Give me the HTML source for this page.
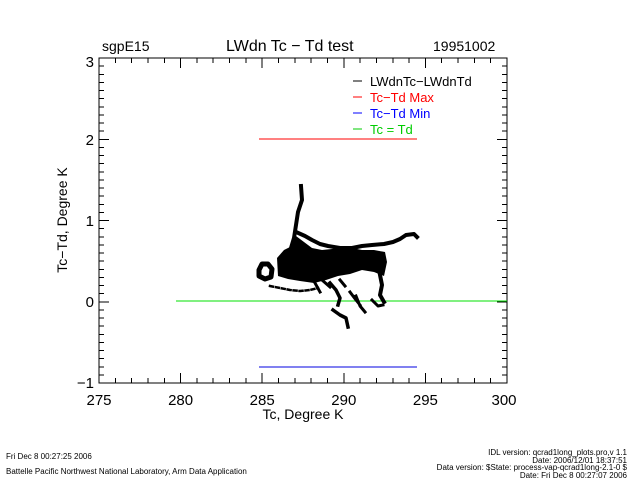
<!DOCTYPE html>
<html><head><meta charset="utf-8"><style>
html,body{margin:0;padding:0;background:#fff;}
svg{display:block;font-family:"Liberation Sans",sans-serif;}
</style></head><body>
<svg width="640" height="480" viewBox="0 0 640 480" xmlns="http://www.w3.org/2000/svg">
<rect width="640" height="480" fill="#fff"/>
<text x="102" y="51" font-size="14">sgpE15</text>
<text x="226" y="51" font-size="16">LWdn Tc − Td test</text>
<text x="433" y="51" font-size="14">19951002</text>
<g shape-rendering="crispEdges">
<rect x="99" y="58" width="408" height="325" fill="none" stroke="#000" stroke-width="1.3"/>
<g stroke="#000" stroke-width="1">
<path d="M115.3 383v-5M131.6 383v-5M148 383v-5M164.3 383v-5M180.6 383v-10M196.9 383v-5M213.2 383v-5M229.6 383v-5M245.9 383v-5M262.2 383v-10M278.5 383v-5M294.8 383v-5M311.2 383v-5M327.5 383v-5M343.8 383v-10M360.1 383v-5M376.4 383v-5M392.8 383v-5M409.1 383v-5M425.4 383v-10M441.7 383v-5M458 383v-5M474.4 383v-5M490.7 383v-5"/>
<path d="M115.3 58v5M131.6 58v5M148 58v5M164.3 58v5M180.6 58v10M196.9 58v5M213.2 58v5M229.6 58v5M245.9 58v5M262.2 58v10M278.5 58v5M294.8 58v5M311.2 58v5M327.5 58v5M343.8 58v10M360.1 58v5M376.4 58v5M392.8 58v5M409.1 58v5M425.4 58v10M441.7 58v5M458 58v5M474.4 58v5M490.7 58v5"/>
</g>
<g id="yt" stroke="#000" stroke-width="1"></g>
<line x1="176" y1="301" x2="507" y2="301" stroke="#00e000" stroke-width="1"/>
<line x1="259" y1="139" x2="417" y2="139" stroke="#f00" stroke-width="1"/>
<line x1="259" y1="367" x2="417" y2="367" stroke="#0000e0" stroke-width="1"/>
<g stroke-width="1">
<line x1="353" y1="81" x2="362" y2="81" stroke="#000"/>
<line x1="353" y1="97" x2="362" y2="97" stroke="#f00"/>
<line x1="353" y1="113" x2="362" y2="113" stroke="#00f"/>
<line x1="353" y1="129" x2="362" y2="129" stroke="#0c0"/>
</g>
</g>
<g font-size="15" text-anchor="end">
<text x="94" y="67">3</text><text x="94" y="145">2</text><text x="94" y="226">1</text><text x="94" y="307">0</text><text x="94" y="388">−1</text>
</g>
<g font-size="15" text-anchor="middle">
<text x="99" y="405">275</text><text x="180.6" y="405">280</text><text x="262.2" y="405">285</text><text x="343.8" y="405">290</text><text x="425.4" y="405">295</text><text x="504" y="405">300</text>
</g>
<text x="303" y="419" font-size="14" text-anchor="middle">Tc, Degree K</text>
<text transform="translate(67,220) rotate(-90)" font-size="14" text-anchor="middle">Tc−Td, Degree K</text>
<g font-size="13">
<text x="370" y="86" fill="#000">LWdnTc−LWdnTd</text>
<text x="370" y="102" fill="#f00">Tc−Td Max</text>
<text x="370" y="118" fill="#00f">Tc−Td Min</text>
<text x="370" y="134" fill="#0c0">Tc = Td</text>
</g>
<!-- data cloud -->
<path fill="#000" d="M277 258 L284 250 L292 246 L296 236 L304 242 L312 248 L322 250 L332 249 L342 247 L352 248 L362 250 L374 250 L385 252 L387 262 L384 276 L374 272 L362 270 L350 274 L338 276 L326 280 L314 283 L300 281 L288 279 L278 276 Z"/>
<g fill="none" stroke="#000" stroke-linecap="square" stroke-linejoin="round">
<path d="M301 186 L302 200 L298 212 L296 225 L294 238 L291 248" stroke-width="4"/>
<path d="M296 232 L305 236 L312 240 L320 244 L328 246 L340 248 L352 248 L362 246 L372 245 L384 244 L393 242 L400 239 L406 235 L414 234 L417 237" stroke-width="4"/>
<path d="M259 270 L262 264 L268 264 L272 269 L271 277 L265 279 L259 276 Z" stroke-width="5"/>
<path d="M270 286 L280 288 L290 290 L300 291 L310 290 L318 288" stroke-width="2.5" stroke-dasharray="3 3"/>
<path d="M330 283 L336 290 L340 298 L338 305 M333 310 L340 315 L346 318 L348 327" stroke-width="3.5"/>
<path d="M350 292 L356 300 L360 305 M356 296 L360 306 L365 312 M372 300 L378 306 L383 305" stroke-width="3"/>
<path d="M379 270 L382 285 L380 295 L384 302" stroke-width="4"/>
<path d="M322 280 L330 287 M340 280 L345 286 M315 283 L320 292" stroke-width="3"/>
</g>
<g font-size="8" fill="#000">
<text x="6" y="459">Fri Dec  8 00:27:25 2006</text>
<text x="6" y="474">Battelle Pacific Northwest National Laboratory, Arm Data Application</text>
<g text-anchor="end">
<text x="627" y="455">IDL version: qcrad1long_plots.pro,v 1.1</text>
<text x="627" y="463">Date: 2006/12/01 18:37:51</text>
<text x="627" y="470">Data version: $State: process-vap-qcrad1long-2.1-0 $</text>
<text x="627" y="478">Date: Fri Dec  8 00:27:07 2006</text>
</g>
</g>
<script>
var g=document.getElementById('yt'),d='';
for(var i=0;i<=40;i++){var y=383-i*8.125;var L=(i%10==0)?10:5;d+='M99 '+y+'h'+L+'M507 '+y+'h-'+L;}
var p=document.createElementNS('http://www.w3.org/2000/svg','path');p.setAttribute('d',d);g.appendChild(p);
</script>
</svg>
</body></html>
